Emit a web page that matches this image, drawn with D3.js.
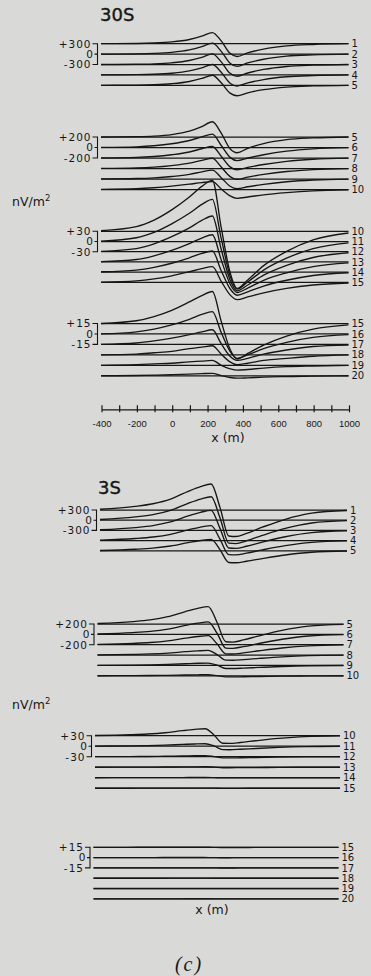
<!DOCTYPE html>
<html><head><meta charset="utf-8">
<script src="https://cdn.jsdelivr.net/npm/d3@7"></script>
<style>
html,body{margin:0;padding:0;background:#d9dad8;}
svg{display:block}
</style></head><body>
<svg id="c" width="371" height="976"></svg>
<script>
// ---------- DATA ----------
const xMeters = [-400, -200, -100, 0, 100, 170, 230, 280, 330, 370, 430, 520, 650, 800, 1000];
const groupTraces = [[1,2,3,4,5],[5,6,7,8,9,10],[10,11,12,13,14,15],[15,16,17,18,19,20]];
const groupScales = [300, 200, 30, 15];
const axisTicks = [-400,-300,-200,-100,0,100,200,300,400,500,600,700,800,900,1000];
const axisLabels = [-400,-200,0,200,400,600,800,1000];
const panelTitles = ["30S", "3S"];
const unitLabel = "nV/m";
const xTitle = "x (m)";
const figTag = "(c)";

// values in nV/m^2, trace 1..20, at xMeters
const sheet30S = [
  [0, 6, 19, 51, 122, 218, 320, 80, -278, -370, -266, -155, -63, -22, 0],
  [0, 6, 19, 50, 120, 214, 315, 79, -266, -355, -256, -149, -60, -21, 0],
  [0, 6, 18, 49, 116, 207, 305, 76, -255, -340, -245, -143, -58, -20, 0],
  [0, 6, 18, 48, 114, 204, 300, 75, -240, -320, -230, -134, -54, -19, 0],
  [0, 6, 17, 46, 110, 197, 290, 73, -225, -300, -216, -126, -51, -18, 0],
  [1, 13, 33, 71, 133, 204, 255, 38, -188, -250, -200, -138, -70, -25, -3],
  [1, 11, 29, 62, 114, 176, 220, 33, -169, -225, -180, -124, -63, -23, -2],
  [1, 10, 25, 55, 101, 156, 195, 29, -154, -205, -164, -113, -57, -21, -2],
  [1, 9, 22, 48, 88, 136, 170, 26, -139, -185, -148, -102, -52, -19, -2],
  [2, 14, 33, 63, 101, 132, 150, 11, -121, -168, -143, -101, -59, -25, -5],
  [1, 11, 27, 52, 83, 109, 124, 9, -101, -140, -119, -84, -49, -21, -4],
  [1, 9, 23, 44, 70, 92, 105, 7, -83, -115, -98, -69, -40, -17, -3],
  [1, 7, 18, 34, 54, 70, 80, 6, -65, -90, -77, -54, -32, -14, -3],
  [1, 6, 14, 26, 42, 55, 62, 4, -49, -68, -58, -41, -24, -10, -2],
  [0, 4, 10, 19, 31, 40, 46, 3, -37, -51, -43, -31, -18, -8, -2],
  [0, 3, 7, 13, 21, 28, 32, 2, -25, -35, -30, -21, -12, -5, -1],
  [0, 2, 5, 9, 14, 18, 21, 1, -17, -23, -20, -14, -8, -3, -1],
  [0, 1, 3, 5, 9, 11, 13, 1, -10, -14, -12, -8, -5, -2, 0],
  [0, 1, 2, 3, 5, 6, 7, 0, -5, -7, -6, -4, -2, -1, 0],
  [0, 0.3, 0.8, 1.5, 2.3, 3, 3.5, 0.2, -2.5, -3.5, -3, -2, -1.2, -0.5, 0]
];
const sheet3S = [
  [23, 107, 184, 321, 551, 689, 765, 77, -764, -780, -686, -507, -273, -94, -16],
  [21, 97, 166, 290, 497, 621, 690, 69, -676, -690, -607, -449, -242, -83, -14],
  [18, 83, 142, 248, 425, 531, 590, 59, -519, -530, -466, -345, -186, -64, -11],
  [13, 62, 106, 185, 317, 396, 440, 44, -412, -420, -370, -273, -147, -50, -8],
  [10, 47, 80, 141, 241, 302, 335, 34, -343, -350, -308, -228, -123, -42, -7],
  [7, 34, 58, 101, 173, 216, 240, 24, -265, -270, -238, -176, -95, -32, -5],
  [5, 25, 42, 74, 126, 158, 175, 18, -176, -180, -158, -117, -63, -22, -4],
  [3, 13, 22, 38, 65, 81, 90, 9, -98, -100, -88, -65, -35, -12, -2],
  [1, 6, 11, 19, 32, 41, 45, 5, -59, -60, -53, -39, -21, -7, -1],
  [0.6, 2.8, 4.8, 8.4, 14.4, 18, 20, 2, -21.6, -22, -19.4, -14.3, -7.7, -2.6, -0.4],
  [0.2, 1, 1.7, 2.9, 5, 6.3, 7, 0.7, -9.8, -10, -8.8, -6.5, -3.5, -1.2, -0.2],
  [0.1, 0.4, 0.7, 1.3, 2.2, 2.7, 3, 0.3, -3.4, -3.5, -3.1, -2.3, -1.2, -0.4, -0.1],
  [0, 0.2, 0.3, 0.5, 0.9, 1.1, 1.2, 0.1, -1.5, -1.5, -1.3, -1, -0.5, -0.2, 0],
  [0, 0.1, 0.1, 0.3, 0.4, 0.5, 0.6, 0.1, -0.7, -0.7, -0.6, -0.5, -0.2, -0.1, 0],
  [0, 0, 0.1, 0.1, 0.2, 0.3, 0.3, 0, -0.3, -0.3, -0.3, -0.2, -0.1, 0, 0],
  [0, 0, 0, 0.1, 0.1, 0.1, 0.15, 0, -0.15, -0.15, -0.1, -0.1, 0, 0, 0],
  [0, 0, 0, 0, 0.05, 0.07, 0.08, 0, -0.08, -0.08, -0.07, -0.05, 0, 0, 0],
  [0, 0, 0, 0, 0.02, 0.03, 0.04, 0, -0.04, -0.04, -0.03, -0.02, 0, 0, 0],
  [0, 0, 0, 0, 0.01, 0.01, 0.02, 0, -0.02, -0.02, -0.01, -0.01, 0, 0, 0],
  [0, 0, 0, 0, 0, 0.01, 0.01, 0, -0.01, -0.01, -0.01, 0, 0, 0, 0]
];

// ---------- LAYOUT ----------
const INK = "#161616";
const FONT = "'DejaVu Sans', sans-serif";
const layout30 = {
  title: {x: 100, y: 21},
  unit: {x: 12, y: 206},
  groups: [
    {y0: 43.7, dy: 10.4, x0: 101, x1: 348.5},
    {y0: 137, dy: 10.5, x0: 101, x1: 348.5},
    {y0: 231.3, dy: 10.2, x0: 101, x1: 348.5},
    {y0: 323.5, dy: 10.45, x0: 101, x1: 348.5}
  ],
  axis: {y: 409.3, x0: 101.5, x1: 349},
  xTitle: {x: 228, y: 442}
};
const layout3 = {
  title: {x: 98, y: 494},
  unit: {x: 12, y: 709},
  groups: [
    {y0: 510, dy: 10.2, x0: 100, x1: 347},
    {y0: 624, dy: 10.35, x0: 97.5, x1: 343.5},
    {y0: 735.7, dy: 10.5, x0: 95, x1: 340},
    {y0: 847.3, dy: 10.3, x0: 93.5, x1: 338.5}
  ],
  xTitle: {x: 212, y: 914}
};

const svg = d3.select("#c");
svg.append("rect").attr("width", 371).attr("height", 976).attr("fill", "#d9dad8");

function drawPanel(data, L, title) {
  const g = svg.append("g");
  g.append("text").attr("x", L.title.x).attr("y", L.title.y)
    .attr("font-family", FONT).attr("font-size", 18).attr("fill", INK)
    .attr("stroke", INK).attr("stroke-width", 0.4).text(title);
  const u = g.append("text").attr("x", L.unit.x).attr("y", L.unit.y)
    .attr("font-family", FONT).attr("font-size", 12.5).attr("fill", INK);
  u.append("tspan").text(unitLabel);
  u.append("tspan").attr("dy", -5).attr("font-size", 8.5).text("2");

  L.groups.forEach((gl, gi) => {
    const x = d3.scaleLinear().domain([-400, 1000]).range([gl.x0, gl.x1]);
    const sv = groupScales[gi];
    groupTraces[gi].forEach((t, k) => {
      const base = gl.y0 + k * gl.dy;
      const y = d3.scaleLinear().domain([0, sv]).range([base, base - gl.dy]);
      g.append("line").attr("x1", x(-400)).attr("x2", x(1000))
        .attr("y1", y(0)).attr("y2", y(0))
        .attr("stroke", INK).attr("stroke-width", 1.25);
      const line = d3.line().x((d, i) => x(xMeters[i])).y(d => y(d)).curve(d3.curveMonotoneX);
      g.append("path").attr("d", line(data[t - 1])).attr("fill", "none")
        .attr("stroke", INK).attr("stroke-width", 1.35).attr("stroke-linejoin", "round");
      g.append("text").attr("x", x(1000) + 3).attr("y", y(0) + 3.6)
        .attr("font-family", FONT).attr("font-size", 10).attr("fill", INK).text(t);
    });
    // scale bracket
    const yT = gl.y0, yM = gl.y0 + gl.dy, yB = gl.y0 + 2 * gl.dy;
    const bx = gl.x0 - 3.5;
    g.append("path").attr("d", `M${bx - 5},${yT}H${bx}V${yB}H${bx - 5}M${bx - 3},${yM}H${bx}`)
      .attr("fill", "none").attr("stroke", INK).attr("stroke-width", 1.1);
    const lab = [["+" + sv, yT, bx - 6], ["0", yM, bx - 3.5], ["-" + sv, yB, bx - 6]];
    lab.forEach(([s, yy, xx]) => {
      g.append("text").attr("x", xx).attr("y", yy + 3.8).attr("text-anchor", "end")
        .attr("font-family", FONT).attr("font-size", 10.5).attr("letter-spacing", 1)
        .attr("fill", INK).text(s);
    });
  });

  if (L.axis) {
    const xa = d3.scaleLinear().domain([-400, 1000]).range([L.axis.x0, L.axis.x1]);
    const ax = d3.axisBottom(xa).tickValues(axisTicks).tickSizeInner(3).tickSizeOuter(0)
      .tickPadding(8).tickFormat(d => axisLabels.includes(d) ? String(d) : "");
    const ag = g.append("g").attr("transform", `translate(0,${L.axis.y})`).call(ax);
    ag.select(".domain").attr("stroke", INK).attr("stroke-width", 1.2);
    ag.selectAll(".tick line").attr("y1", -4).attr("y2", 3).attr("stroke", INK).attr("stroke-width", 1.2);
    ag.selectAll(".tick text").attr("font-family", "'Liberation Sans', sans-serif")
      .attr("font-size", 9.5).attr("fill", INK);
  }
  g.append("text").attr("x", L.xTitle.x).attr("y", L.xTitle.y).attr("text-anchor", "middle")
    .attr("font-family", FONT).attr("font-size", 12.5).attr("fill", INK).text(xTitle);
}

drawPanel(sheet30S, layout30, panelTitles[0]);
drawPanel(sheet3S, layout3, panelTitles[1]);

svg.append("text").attr("x", 189).attr("y", 971).attr("text-anchor", "middle")
  .attr("font-family", "'Liberation Serif', serif").attr("font-style", "italic")
  .attr("font-size", 20).attr("letter-spacing", 2).attr("fill", INK).text(figTag);
</script>
</body></html>
